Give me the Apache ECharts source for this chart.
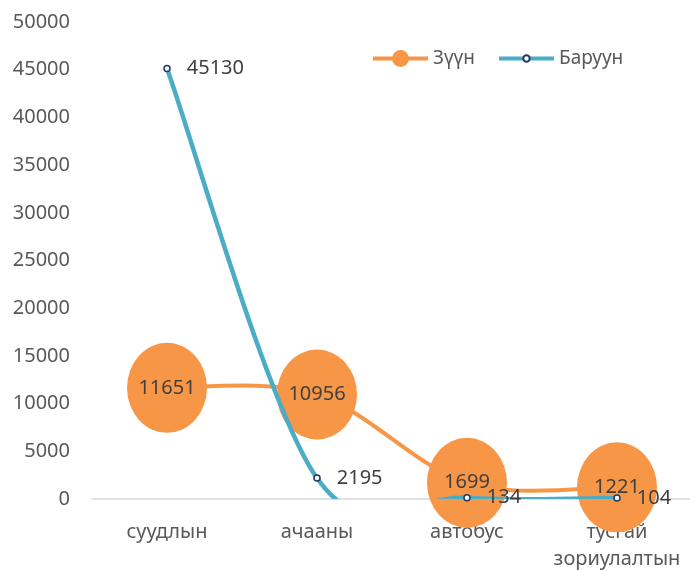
<!DOCTYPE html>
<html><head><meta charset="utf-8">
<script src="https://cdn.jsdelivr.net/npm/echarts@6/dist/echarts.min.js"></script>
<style>html,body{margin:0;padding:0;background:#fff}#c{width:690px;height:571px}</style>
</head><body><div id="c"></div>
<script>
const categories = ['суудлын', 'ачааны', 'автобус', 'тусгай\nзориулалтын'];
const eastName = 'Зүүн';
const westName = 'Баруун';
const eastValues = [11651, 10956, 1699, 1221];
const westValues = [45130, 2195, 134, 104];
const yTicks = { min: 0, max: 50000, interval: 5000 };

const font = '"Noto Sans", sans-serif';
const ORANGE = '#F79646', BLUE = '#4BACC6', NAVY = '#1F3864';

// Excel-style (Catmull-Rom) smoothed curve drawn through the axis scales
function smoothRenderer(values, color, width) {
  return function (params, api) {
    const i = params.dataIndex;
    if (i >= values.length - 1) return null;
    const p = k => {
      const j = Math.max(0, Math.min(values.length - 1, k));
      return api.coord([j, values[j]]);
    };
    const p0 = p(i - 1), p1 = p(i), p2 = p(i + 1), p3 = p(i + 2);
    const cs = params.coordSys;
    return {
      type: 'bezierCurve',
      shape: {
        x1: p1[0], y1: p1[1], x2: p2[0], y2: p2[1],
        cpx1: p1[0] + (p2[0] - p0[0]) / 6, cpy1: p1[1] + (p2[1] - p0[1]) / 6,
        cpx2: p2[0] - (p3[0] - p1[0]) / 6, cpy2: p2[1] - (p3[1] - p1[1]) / 6
      },
      style: { stroke: color, lineWidth: width, fill: null, lineCap: 'round' },
      clipPath: { type: 'rect', shape: { x: cs.x, y: cs.y, width: cs.width, height: cs.height } }
    };
  };
}

const chart = echarts.init(document.getElementById('c'), null, { renderer: 'canvas' });
chart.setOption({
  animation: false,
  backgroundColor: '#fff',
  textStyle: { fontFamily: font },
  legend: [
    {
      top: 44, left: 366, itemWidth: 55, itemHeight: 21,
      textStyle: { fontSize: 19, color: '#595959', fontFamily: font },
      lineStyle: { opacity: 1, width: 4, color: ORANGE },
      data: [eastName]
    },
    {
      top: 44, left: 492, itemWidth: 55, itemHeight: 8,
      textStyle: { fontSize: 19, color: '#595959', fontFamily: font },
      lineStyle: { opacity: 1, width: 4, color: BLUE },
      data: [westName]
    }
  ],
  grid: { left: 92, top: 22, width: 600, height: 477, containLabel: false, outerBoundsMode: 'none' },
  xAxis: {
    type: 'category', data: categories, boundaryGap: true,
    axisLine: { lineStyle: { color: '#d9d9d9', width: 1.5 } },
    axisTick: { show: false },
    axisLabel: { interval: 0, fontSize: 20, color: '#595959', margin: 20, lineHeight: 27, fontFamily: font }
  },
  yAxis: {
    type: 'value', min: yTicks.min, max: yTicks.max, interval: yTicks.interval,
    axisLine: { show: false }, axisTick: { show: false }, splitLine: { show: false },
    axisLabel: { fontSize: 20, color: '#595959', margin: 22, fontFamily: font, formatter: v => String(v) }
  },
  series: [
    {
      type: 'custom', name: eastName + ' line', data: eastValues.map((v, i) => [i, v]),
      renderItem: smoothRenderer(eastValues, ORANGE, 4), z: 1, silent: true
    },
    {
      name: eastName, type: 'line', data: eastValues, z: 2,
      color: ORANGE,
      lineStyle: { width: 4, color: ORANGE, opacity: 0 },
      symbol: 'circle', symbolSize: [80, 90],
      itemStyle: { color: ORANGE },
      label: { show: true, position: 'inside', fontSize: 20, color: '#404040', fontFamily: font }
    },
    {
      type: 'custom', name: westName + ' line', data: westValues.map((v, i) => [i, v]),
      renderItem: smoothRenderer(westValues, BLUE, 4.5), z: 3, silent: true
    },
    {
      name: westName, type: 'line', data: westValues, z: 4,
      color: BLUE,
      lineStyle: { width: 4, color: BLUE, opacity: 0 },
      symbol: 'circle', symbolSize: 6,
      itemStyle: { color: '#fff', borderColor: NAVY, borderWidth: 1.5 },
      label: { show: true, position: 'right', distance: 16, fontSize: 20, color: '#404040', fontFamily: font }
    }
  ]
});
</script></body></html>
